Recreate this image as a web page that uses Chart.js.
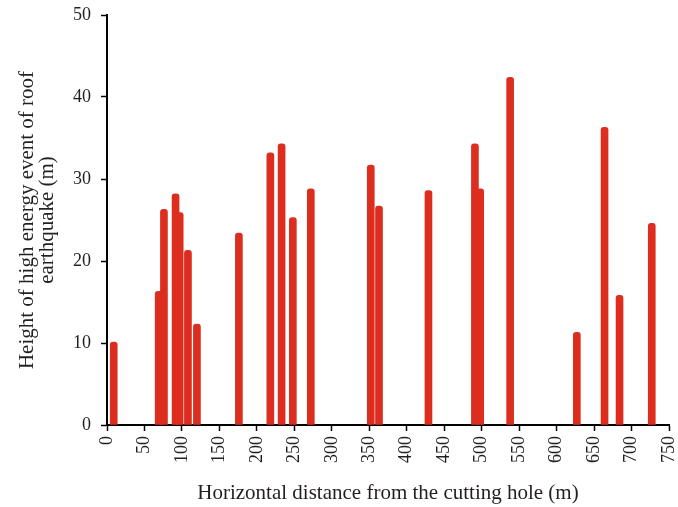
<!DOCTYPE html>
<html>
<head>
<meta charset="utf-8">
<script src="https://cdn.jsdelivr.net/npm/chart.js@4/dist/chart.umd.min.js"></script>
<style>
html,body{margin:0;padding:0;background:#fff;}
#wrap{width:678px;height:507px;position:relative;}
</style>
</head>
<body>
<div id="wrap"><canvas id="c" width="678" height="507"></canvas></div>
<script>
// Horizontal distance from the cutting hole (m)
const distances = [9, 69, 76, 91.5, 97, 108, 120, 176, 218, 233, 248, 272, 352, 363, 429, 491, 498, 538, 627, 664, 684, 727];
// Height of high energy event of roof earthquake (m)
const heights   = [10.1, 16.3, 26.3, 28.2, 25.9, 21.3, 12.3, 23.4, 33.2, 34.3, 25.3, 28.8, 31.7, 26.7, 28.6, 34.3, 28.8, 42.4, 11.3, 36.3, 15.8, 24.6];
const xTicks = [0, 50, 100, 150, 200, 250, 300, 350, 400, 450, 500, 550, 600, 650, 700, 750];
const yTicks = [0, 10, 20, 30, 40, 50];

const xTitle = 'Horizontal distance from the cutting hole (m)';
const yTitle = ['Height of high energy event of roof', 'earthquake (m)'];

const points = distances.map((d, i) => ({x: d, y: heights[i]}));
const serif = '"Liberation Serif", "Times New Roman", serif';
const txt = '#231f20';

new Chart(document.getElementById('c'), {
  type: 'bar',
  data: {
    datasets: [{
      data: points,
      backgroundColor: '#dc2d1e',
      borderWidth: 0,
      barThickness: 7,
      borderRadius: {topLeft: 3, topRight: 3, bottomLeft: 0, bottomRight: 0},
      borderSkipped: 'bottom'
    }]
  },
  options: {
    responsive: false,
    animation: false,
    devicePixelRatio: 1,
    layout: {padding: {top: 15, right: 9, left: 0, bottom: 1}},
    plugins: {legend: {display: false}, tooltip: {enabled: false}},
    scales: {
      x: {
        type: 'linear',
        min: 0, max: 750,
        offset: false,
        afterBuildTicks: s => { s.ticks = xTicks.map(v => ({value: v})); },
        afterFit: s => { s.height = 81; s.paddingLeft = 0; s.paddingRight = 0; },
        border: {display: true, color: '#000', width: 2},
        grid: {display: true, offset: false, drawOnChartArea: false, drawTicks: true, tickLength: 6, tickWidth: 1.5, tickColor: '#000'},
        ticks: {minRotation: 90, maxRotation: 90, padding: 5, color: txt, font: {family: serif, size: 18}},
        title: {display: true, text: xTitle, color: txt, font: {family: serif, size: 21}, padding: {top: 2, bottom: 0}}
      },
      y: {
        min: 0, max: 50,
        afterBuildTicks: s => { s.ticks = yTicks.map(v => ({value: v})); },
        afterFit: s => { s.width = 107; s.paddingTop = 0; s.paddingBottom = 0; },
        border: {display: true, color: '#000', width: 2},
        grid: {display: true, drawOnChartArea: false, drawTicks: true, tickLength: 6, tickWidth: 1.5, tickColor: '#000'},
        ticks: {padding: 10, color: txt, font: {family: serif, size: 18}},
        title: {display: true, text: yTitle, color: txt, font: {family: serif, size: 21, lineHeight: 0.95}, padding: {top: 18, bottom: 0}}
      }
    }
  }
});
</script>
</body>
</html>
